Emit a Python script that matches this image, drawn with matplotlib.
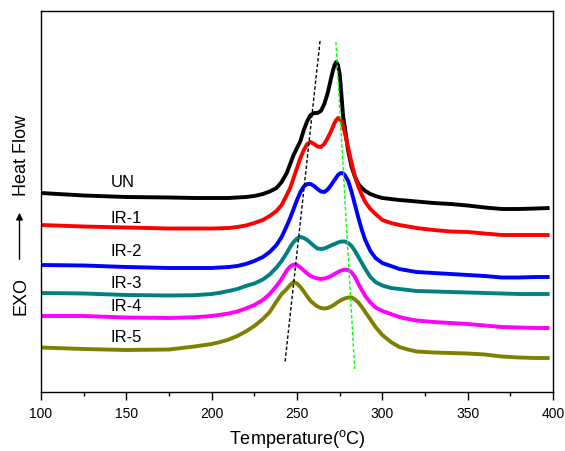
import matplotlib
matplotlib.use('Agg')
import matplotlib.pyplot as plt
from matplotlib.ticker import MultipleLocator

plt.rcParams['font.family'] = ['Liberation Sans', 'DejaVu Sans']
plt.rcParams['mathtext.fontset'] = 'custom'
plt.rcParams['mathtext.rm'] = 'Liberation Sans'

# temperature grid shared by all DSC traces (degC)
temp = [100, 125, 150, 175, 190, 200, 205, 210, 215, 220, 225, 230, 234, 238, 241, 244, 246, 248,
        250, 252, 254, 256, 258, 260, 262, 264, 266, 268, 270, 271, 272, 273, 274, 275,
        276, 277, 278, 280, 282, 284, 286, 288, 290, 293, 296, 300, 305, 310, 315, 320, 330,
        340, 350, 360, 370, 380, 390, 398]

# heat flow, stacked with an offset (arbitrary units)
hf_un = [199, 196.5, 195, 194.5, 194, 194, 194, 194, 194.5, 195, 196, 198, 200.5, 204, 210, 219, 228, 237,
         244, 251, 262, 271, 277, 279, 279, 281, 288, 299, 314, 321, 327, 330, 327, 318,
         298, 276, 265, 241, 225, 215, 208, 204, 201, 198, 196, 194, 193, 192, 191.3, 190.5, 189,
         188, 186.5, 184.5, 183, 183, 183.5, 184]

hf_ir1 = [167, 165.5, 164.5, 163.5, 163.5, 163.5, 163.7, 164, 165, 166.5, 169, 172, 176, 181, 187, 197, 204, 214,
          224, 234, 242, 248, 250, 248, 245.5, 245, 248, 254, 261, 265, 269, 272, 274, 273.5,
          271, 266, 259, 244, 229, 215, 205, 197, 190, 183, 178, 172, 169, 167, 165.5, 164, 162,
          160.5, 160, 158.5, 157, 157, 157, 157]

hf_ir2 = [127, 126.5, 125, 124, 124, 124, 124.5, 125, 126, 128, 131, 135, 140, 147, 155, 166, 174, 183,
          192, 200, 205.5, 208, 208, 206, 203, 200.5, 200, 202.5, 207, 209.5, 212, 214.5, 217, 218.5,
          219, 218.5, 217, 211, 200, 187, 174, 162, 152, 141, 134, 129, 126, 123, 121.5, 120, 119,
          118, 117, 116, 114.5, 114.5, 115, 115]

hf_ir3 = [99, 98.5, 97, 96.5, 96.8, 98, 99.3, 101, 103, 106, 108.5, 112.5, 117.5, 124.5, 131, 139, 145, 150,
          153.5, 155, 154, 152, 149, 146, 143.5, 143, 143.5, 145, 146.5, 147.3, 148, 148.8, 149.5, 150,
          150.5, 150.5, 150.5, 149, 146, 141, 135, 129, 123, 115, 110, 106.5, 104, 103, 102, 101, 100.5,
          100, 99.5, 99, 98.5, 98, 98, 98]

hf_ir4 = [76, 76, 74.5, 74, 74.8, 76, 77.2, 78.5, 80.5, 83.5, 87, 92, 98, 106, 113, 121.5, 125.5, 127.5,
          127, 124.5, 121.5, 118.5, 116, 114.5, 113.5, 113, 113.5, 114.5, 116, 117, 118, 119, 120, 120.8,
          121.5, 122, 122.5, 122, 119.5, 115, 108, 102, 96, 89.5, 84.5, 81, 78, 75, 73, 71.5, 70,
          69, 68, 66.5, 65, 64.5, 64, 64]

hf_ir5 = [44.5, 43, 42, 42.5, 45.5, 48, 50, 52.5, 56, 60.5, 66, 73, 80, 90.5, 98, 103, 107, 110,
          108.5, 105, 100.5, 95.5, 91, 88, 85.5, 84, 83.5, 84, 85.5, 86.5, 87.5, 88.8, 90, 91,
          92, 92.8, 93.5, 94.5, 94.5, 92.5, 89.5, 85, 80, 72.5, 65, 57, 50, 45, 42.5, 40.5, 39.5,
          39, 38.5, 37.5, 35.5, 34.5, 34, 34]

names = ['UN', 'IR-1', 'IR-2', 'IR-3', 'IR-4', 'IR-5']
colors = ['#000000', '#ff0000', '#0000ff', '#008080', '#ff00ff', '#808000']
flows = [hf_un, hf_ir1, hf_ir2, hf_ir3, hf_ir4, hf_ir5]
label_y = [210, 174, 141, 109, 86, 55]
label_t = 141

# guide lines through the two peak families
guide1_t = [263.5, 243]
guide1_hf = [351, 30]
guide2_t = [272.8, 283.8]
guide2_hf = [350, 23]

fig = plt.figure(figsize=(5.65, 4.52), dpi=100)
ax = fig.add_axes([41 / 565, 59 / 452, 512 / 565, 381 / 452])

for hf, c in zip(flows, colors):
    ax.plot(temp, hf, color=c, lw=2.8, solid_joinstyle='round', solid_capstyle='butt')

ax.plot(guide1_t, guide1_hf, color='black', lw=1.0, dashes=(2.5, 1.6))
ax.plot(guide2_t, guide2_hf, color='#00ff00', lw=1.0, dashes=(2.5, 1.6))

for name, y in zip(names, label_y):
    ax.text(label_t, y, name, fontsize=12, ha='left', va='center')

ax.set_xlim(100, 400)
ax.set_ylim(0, 381)
ax.xaxis.set_major_locator(MultipleLocator(50))
ax.xaxis.set_minor_locator(MultipleLocator(25))
ax.tick_params(axis='x', which='major', direction='out', length=6, width=1, labelsize=10, pad=4)
ax.tick_params(axis='x', which='minor', direction='out', length=3, width=1)
ax.tick_params(axis='y', left=False, labelleft=False)
for s in ax.spines.values():
    s.set_linewidth(1.0)

ax.set_xlabel('Temperature($^{\\mathrm{o}}$C)', fontsize=13, labelpad=5)

# y-axis caption: EXO, arrow, Heat Flow
fig.text(21 / 565, 1 - 296 / 452, 'EXO', rotation=90, fontsize=13, ha='center', va='center')
fig.text(22 / 565, 1 - 155 / 452, 'Heat Flow', rotation=90, fontsize=13, ha='center', va='center')
ax.annotate('', xy=(19.5 / 565, 1 - 211 / 452), xytext=(19.5 / 565, 1 - 263 / 452),
            xycoords='figure fraction', textcoords='figure fraction',
            arrowprops=dict(arrowstyle='-|>', color='black', lw=1.0, mutation_scale=10))

fig.savefig('out.png', dpi=100)
